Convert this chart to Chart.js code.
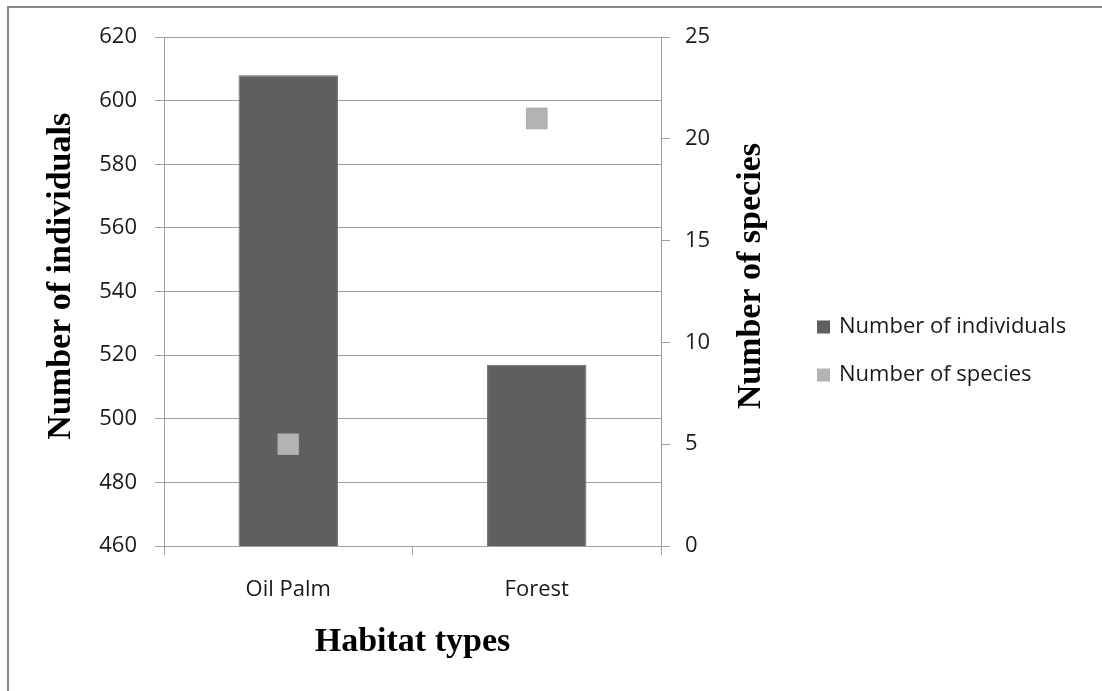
<!DOCTYPE html>
<html>
<head>
<meta charset="utf-8">
<title>Habitat types</title>
<script src="https://cdn.jsdelivr.net/npm/chart.js@4.4.1/dist/chart.umd.min.js"></script>
<style>
  html, body { margin: 0; padding: 0; background: #ffffff; overflow: hidden; }
  #wrap { position: relative; width: 1102px; height: 691px; }
  canvas { display: block; }
</style>
</head>
<body>
<div id="wrap"><canvas id="chart" width="1102" height="691"></canvas></div>
<script>
// Habitat categories and the two measured series
const habitats = ['Oil Palm', 'Forest'];
const individuals = [608, 517];
const species = [5, 21];

// Axis ranges and tick steps
const individualsTicks = { min: 460, max: 620, step: 20 };
const speciesTicks = { min: 0, max: 25, step: 5 };

// Text
const seriesNames = ['Number of individuals', 'Number of species'];
const xTitle = 'Habitat types';
const yTitle = 'Number of individuals';
const y1Title = 'Number of species';

const BAR_COLOR = '#5f5f5f';
const MARK_COLOR = '#b3b3b3';
const GRID_COLOR = '#a0a0a0';
const TEXT_COLOR = '#1a1a1a';
const TICK_FONT = { family: "'Open Sans', 'Noto Sans', sans-serif", size: 22 };
const TITLE_FONT = "bold 34px 'Liberation Serif', 'DejaVu Serif', serif";

// White page with the frame's top and left edges
const framePlugin = {
  id: 'frame',
  beforeDraw(chart) {
    const ctx = chart.ctx;
    ctx.save();
    ctx.fillStyle = '#ffffff';
    ctx.fillRect(0, 0, chart.width, chart.height);
    ctx.strokeStyle = '#888888';
    ctx.lineWidth = 2;
    ctx.beginPath();
    ctx.moveTo(8, chart.height);
    ctx.lineTo(8, 7);
    ctx.lineTo(chart.width, 7);
    ctx.stroke();
    ctx.restore();
  }
};

// Rotated value-axis titles
const axisTitlePlugin = {
  id: 'axisTitles',
  afterDraw(chart) {
    const ctx = chart.ctx;
    const area = chart.chartArea;
    const cy = area.top + (area.bottom - area.top) * 0.47;
    ctx.save();
    ctx.font = TITLE_FONT;
    ctx.fillStyle = '#000000';
    ctx.textAlign = 'center';
    ctx.textBaseline = 'middle';
    [[61, yTitle], [751, y1Title]].forEach(([x, text]) => {
      ctx.save();
      ctx.translate(x, cy);
      ctx.rotate(-Math.PI / 2);
      ctx.fillText(text, 0, 0);
      ctx.restore();
    });
    ctx.restore();
  }
};

// Legend at the right, built from the datasets
const sideLegendPlugin = {
  id: 'sideLegend',
  afterDraw(chart) {
    const ctx = chart.ctx;
    ctx.save();
    ctx.font = `${TICK_FONT.size}px ${TICK_FONT.family}`;
    ctx.textBaseline = 'middle';
    ctx.textAlign = 'left';
    chart.data.datasets.forEach((ds, i) => {
      const y = 327 + i * 48;
      ctx.fillStyle = ds.backgroundColor;
      ctx.fillRect(817, y - 6.5, 13, 13);
      ctx.fillStyle = TEXT_COLOR;
      ctx.fillText(ds.label, 839, y);
    });
    ctx.restore();
  }
};

new Chart(document.getElementById('chart'), {
  type: 'bar',
  data: {
    labels: habitats,
    datasets: [
      {
        label: seriesNames[0],
        data: individuals,
        backgroundColor: BAR_COLOR,
        borderColor: '#686868',
        borderWidth: 1,
        barPercentage: 0.4,
        categoryPercentage: 1.0,
        yAxisID: 'y',
        order: 2
      },
      {
        type: 'line',
        label: seriesNames[1],
        data: species,
        backgroundColor: MARK_COLOR,
        borderColor: '#a9a9a9',
        borderWidth: 1,
        showLine: false,
        pointStyle: 'rect',
        pointRadius: 14.6,
        pointHoverRadius: 14.6,
        yAxisID: 'y1',
        order: 1
      }
    ]
  },
  options: {
    responsive: false,
    animation: false,
    devicePixelRatio: 1,
    events: [],
    layout: { padding: { top: 37, left: 0, right: 0, bottom: 0 } },
    plugins: {
      legend: { display: false },
      tooltip: { enabled: false }
    },
    scales: {
      x: {
        offset: true,
        afterFit(scale) { scale.height = 145; },
        grid: {
          offset: true,
          drawOnChartArea: false,
          drawTicks: true,
          tickLength: 9,
          color: GRID_COLOR
        },
        border: { display: true, color: GRID_COLOR },
        ticks: { font: TICK_FONT, color: TEXT_COLOR, padding: 22, maxRotation: 0 },
        title: {
          display: true,
          text: xTitle,
          color: '#000000',
          font: { family: "'Liberation Serif', 'DejaVu Serif', serif", size: 34, weight: 'bold' },
          padding: { top: 0, bottom: 28 }
        }
      },
      y: {
        position: 'left',
        min: individualsTicks.min,
        max: individualsTicks.max,
        afterFit(scale) { scale.width = 164; },
        grid: { color: GRID_COLOR, tickLength: 9, drawTicks: true },
        border: { display: true, color: GRID_COLOR },
        ticks: { stepSize: individualsTicks.step, font: TICK_FONT, color: TEXT_COLOR, padding: 18 }
      },
      y1: {
        position: 'right',
        min: speciesTicks.min,
        max: speciesTicks.max,
        afterFit(scale) { scale.width = 441; },
        grid: { drawOnChartArea: false, color: GRID_COLOR, tickLength: 9, drawTicks: true },
        border: { display: true, color: GRID_COLOR },
        ticks: { stepSize: speciesTicks.step, font: TICK_FONT, color: TEXT_COLOR, padding: 15 }
      }
    }
  },
  plugins: [framePlugin, axisTitlePlugin, sideLegendPlugin]
});
</script>
</body>
</html>
